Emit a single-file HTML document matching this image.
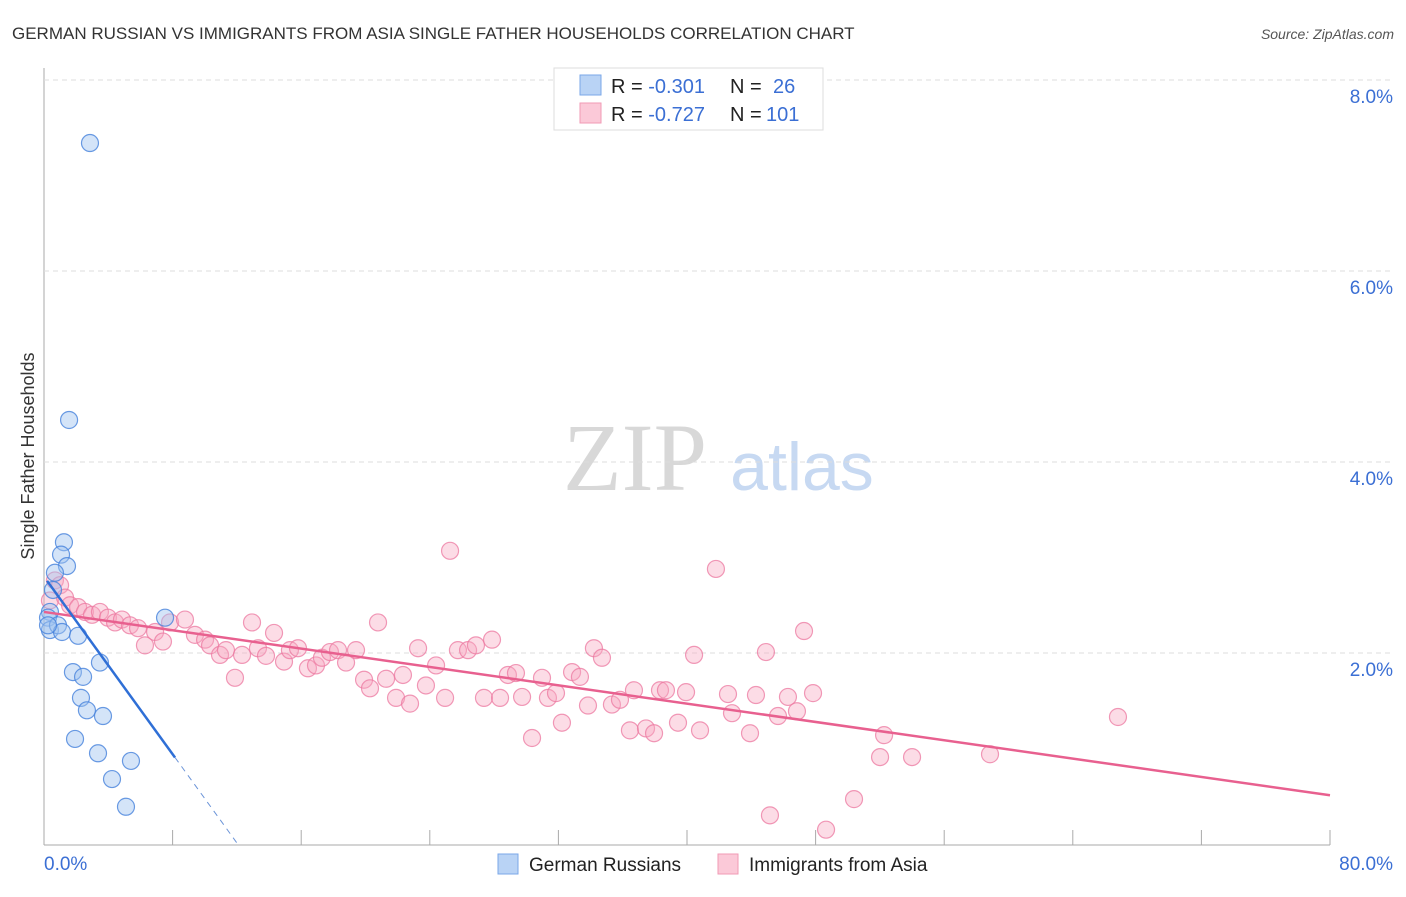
<!DOCTYPE html>
<html><head><meta charset="utf-8"><style>
body{margin:0;background:#fff;font-family:"Liberation Sans",sans-serif}
</style></head><body>
<svg id="c" width="1406" height="892" xmlns="http://www.w3.org/2000/svg" font-family="Liberation Sans, sans-serif">
<text x="12" y="39" font-size="17" fill="#333">GERMAN RUSSIAN VS IMMIGRANTS FROM ASIA SINGLE FATHER HOUSEHOLDS CORRELATION CHART</text>
<text x="1394" y="39" font-size="14" fill="#555" text-anchor="end" font-style="italic">Source: ZipAtlas.com</text>
<text x="635" y="490" font-size="96" fill="#d8d8d8" text-anchor="middle" font-family="Liberation Serif, serif">ZIP</text>
<text x="802" y="490" font-size="68" fill="#c7d9f2" text-anchor="middle">atlas</text>
<text transform="translate(34,456) rotate(-90)" font-size="18" fill="#333" text-anchor="middle">Single Father Households</text>
<g id="grid"></g><g id="pts"></g><g id="lines"></g>
<g>
<rect x="554" y="68" width="269" height="62" fill="#fff" stroke="#ddd"/>
<rect x="580" y="75" width="21" height="20" fill="#b9d3f5" stroke="#7aa7e8"/>
<rect x="580" y="103" width="21" height="20" fill="#fbc9d8" stroke="#f09ab5"/>
<text x="611" y="93" font-size="20" fill="#222">R = <tspan fill="#3b6fd4">-0.301</tspan><tspan x="730">N = </tspan><tspan x="773" fill="#3b6fd4">26</tspan></text>
<text x="611" y="121" font-size="20" fill="#222">R = <tspan fill="#3b6fd4">-0.727</tspan><tspan x="730">N = </tspan><tspan x="766" fill="#3b6fd4">101</tspan></text>
</g>
<g>
<rect x="498" y="854" width="20" height="20" fill="#b9d3f5" stroke="#7aa7e8"/>
<text x="529" y="871" font-size="19" fill="#222">German Russians</text>
<rect x="718" y="854" width="20" height="20" fill="#fbc9d8" stroke="#f09ab5"/>
<text x="749" y="871" font-size="19" fill="#222">Immigrants from Asia</text>
</g>
</svg>
<script>
const yTicks=[2,4,6,8];
const yTickLabels=["2.0%","4.0%","6.0%","8.0%"];
const xTicks=[8,16,24,32,40,48,56,64,72,80];
const blueX=[2.86,1.56,1.24,1.06,1.43,0.68,0.56,0.37,0.25,0.37,0.87,1.12,2.12,7.53,3.48,1.80,2.43,2.30,2.67,3.67,1.93,3.36,5.41,4.23,5.10,0.25];
const blueY=[7.34,4.44,3.16,3.03,2.91,2.84,2.66,2.43,2.37,2.24,2.29,2.22,2.18,2.37,1.90,1.80,1.75,1.53,1.40,1.34,1.10,0.95,0.87,0.68,0.39,2.29];
const pinkX=[0.68,1.00,0.37,1.31,1.62,2.12,2.55,2.99,3.48,3.98,4.42,4.85,5.35,5.85,6.28,6.91,7.40,7.84,8.77,9.39,10.02,10.33,10.95,11.32,11.88,12.32,12.94,13.31,13.81,14.31,14.93,15.30,15.80,16.42,16.92,17.29,17.79,18.29,18.79,19.41,19.91,20.28,20.78,21.28,21.90,22.33,22.77,23.27,23.76,24.39,24.95,25.26,25.75,26.38,26.87,27.37,27.87,28.37,28.86,29.36,29.74,30.36,30.98,31.35,31.85,32.22,32.85,33.34,33.84,34.21,34.71,35.33,35.83,36.45,36.70,37.45,37.95,38.32,38.69,39.44,39.94,40.44,40.81,41.80,42.55,42.80,43.92,44.29,44.91,45.66,46.28,46.84,47.28,47.84,48.65,50.39,52.01,52.26,54.00,58.85,66.81,45.16];
const pinkY=[2.76,2.71,2.55,2.58,2.50,2.48,2.43,2.40,2.43,2.37,2.32,2.35,2.29,2.26,2.08,2.22,2.12,2.32,2.35,2.19,2.14,2.08,1.98,2.03,1.74,1.98,2.32,2.05,1.97,2.21,1.91,2.03,2.05,1.84,1.87,1.95,2.01,2.03,1.90,2.03,1.72,1.63,2.32,1.73,1.53,1.77,1.47,2.05,1.66,1.87,1.53,3.07,2.03,2.03,2.08,1.53,2.14,1.53,1.77,1.79,1.54,1.11,1.74,1.53,1.58,1.27,1.80,1.75,1.45,2.05,1.95,1.46,1.51,1.19,1.61,1.21,1.16,1.61,1.61,1.27,1.59,1.98,1.19,2.88,1.57,1.37,1.16,1.56,2.01,1.34,1.54,1.39,2.23,1.58,0.15,0.47,0.91,1.14,0.91,0.94,1.33,0.30];
const pinkTrend=[2.43,0.51];
const blueTrend=[2.80,-0.2324];
const NS="http://www.w3.org/2000/svg";
const X=v=>44+v*16.075, Y=v=>844-v*95.5;
function mk(p,tag,a){const e=document.createElementNS(NS,tag);for(const k in a)e.setAttribute(k,a[k]);p.appendChild(e);return e;}
const g=document.getElementById('grid');
let ax=mk(g,'line',{x1:44,y1:68,x2:44,y2:845,stroke:'#aaa'});


let bx=mk(g,'line',{x1:44,y1:845,x2:1330,y2:845,stroke:'#aaa'});


yTicks.forEach((t,i)=>{
 const l=mk(g,'line',{x1:44,x2:1392,y1:Y(t),y2:Y(t),stroke:'#ddd','stroke-dasharray':'5,4'});
 
 
 const tx=mk(g,'text',{x:1393,y:Y(t)+23,'font-size':19,fill:'#3b6fd4','text-anchor':'end'});
 tx.textContent=yTickLabels[i];
 
 
});
xTicks.forEach(t=>{
 const l=mk(g,'line',{x1:X(t),x2:X(t),y1:830,y2:845,stroke:'#aaa'});
 
 
});
let x0=mk(g,'text',{x:44,y:870,'font-size':19,fill:'#3b6fd4'});x0.textContent='0.0%';


let x1=mk(g,'text',{x:1393,y:870,'font-size':19,fill:'#3b6fd4','text-anchor':'end'});x1.textContent='80.0%';


const pg=document.getElementById('pts');
pinkX.forEach((v,i)=>{
 const c=mk(pg,'circle',{cx:X(v),cy:Y(pinkY[i]),r:8.5,fill:'rgba(247,167,192,0.4)',stroke:'rgba(236,120,160,0.75)','stroke-width':1.2});
 
 
});
blueX.forEach((v,i)=>{
 const c=mk(pg,'circle',{cx:X(v),cy:Y(blueY[i]),r:8.5,fill:'rgba(160,196,240,0.45)',stroke:'rgba(70,130,220,0.8)','stroke-width':1.2});
 
 
});
const lg=document.getElementById('lines');
let pl=mk(lg,'line',{x1:X(0),y1:Y(pinkTrend[0]),x2:X(80),y2:Y(pinkTrend[1]),stroke:'#e8608f','stroke-width':2.5});


const bY=v=>blueTrend[0]+blueTrend[1]*v;
let bl=mk(lg,'line',{x1:X(0.19),y1:Y(bY(0.19)),x2:X(8.15),y2:Y(bY(8.15)),stroke:'#2f6fd6','stroke-width':2.5});


let bd=mk(lg,'line',{x1:X(8.15),y1:Y(bY(8.15)),x2:X(12.0),y2:Y(bY(12.0)),stroke:'#6b94d8','stroke-width':1,'stroke-dasharray':'6,5'});


</script>
</body></html>
